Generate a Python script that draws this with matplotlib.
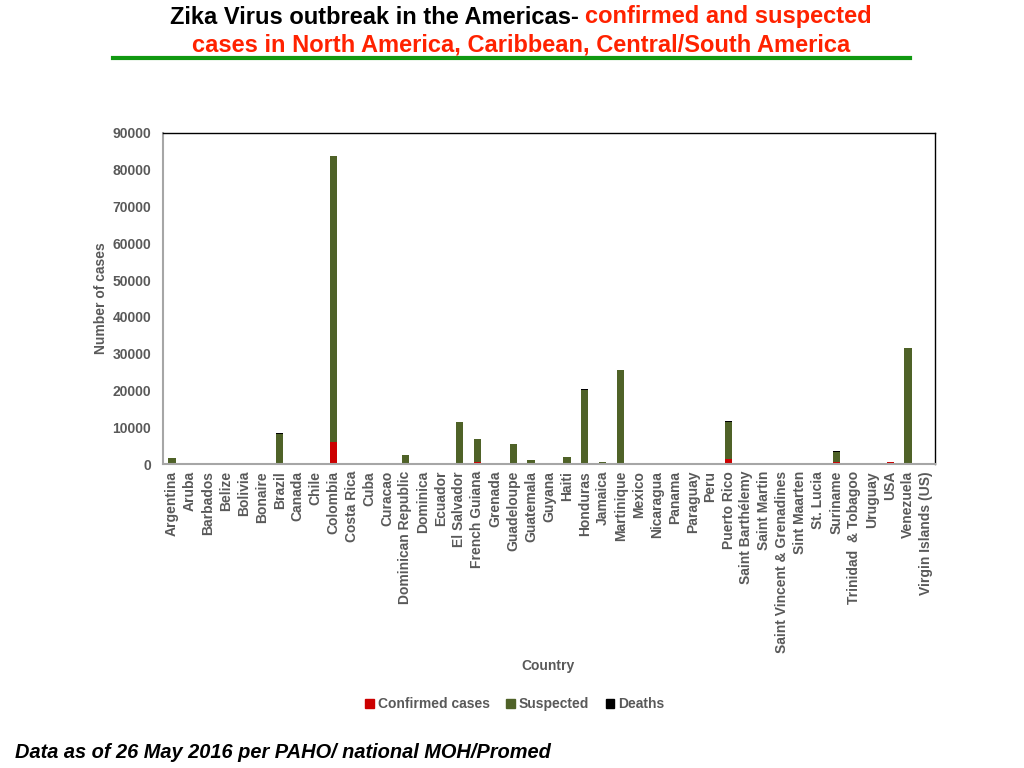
import matplotlib
matplotlib.use("Agg")
import matplotlib.pyplot as plt
import numpy as np
from matplotlib.lines import Line2D
from matplotlib.patches import Patch

countries = ["Argentina", "Aruba", "Barbados", "Belize", "Bolivia", "Bonaire", "Brazil",
             "Canada", "Chile", "Colombia", "Costa Rica", "Cuba", "Curacao",
             "Dominican Republic", "Dominica", "Ecuador", "El Salvador", "French Guiana",
             "Grenada", "Guadeloupe", "Guatemala", "Guyana", "Haiti", "Honduras", "Jamaica",
             "Martinique", "Mexico", "Nicaragua", "Panama", "Paraguay", "Peru", "Puerto Rico",
             "Saint Barthélemy", "Saint Martin", "Saint Vincent & Grenadines", "Sint Maarten",
             "St. Lucia", "Suriname", "Trinidad  & Tobagoo", "Uruguay", "USA", "Venezuela",
             "Virgin Islands (US)"]

confirmed = [40, 60, 60, 60, 60, 60, 60,
             60, 60, 6100, 60, 60, 60,
             60, 60, 60, 60, 450,
             60, 60, 60, 60, 60, 60, 60,
             60, 60, 60, 60, 60, 60, 1250,
             60, 60, 60, 60,
             60, 450, 60, 60, 600, 60,
             60]

suspected = [1500, 0, 0, 0, 0, 0, 8000,
             0, 0, 77700, 0, 0, 0,
             2400, 0, 0, 11400, 6400,
             0, 5500, 1050, 0, 1800, 20000, 500,
             25500, 0, 0, 0, 0, 0, 10100,
             0, 0, 0, 0,
             0, 2800, 0, 0, 0, 31400,
             0]

deaths = [0, 0, 0, 0, 0, 0, 250,
          0, 0, 0, 0, 0, 0,
          0, 0, 0, 0, 0,
          0, 0, 0, 0, 0, 250, 0,
          0, 0, 0, 0, 0, 0, 250,
          0, 0, 0, 0,
          0, 250, 0, 0, 0, 0,
          0]

RED = "#CC0000"
GREEN = "#4F6228"
BLACK = "#000000"
GRAY = "#595959"

plt.rcParams['font.family'] = ['Liberation Sans', 'DejaVu Sans']

fig = plt.figure(figsize=(10.24, 7.68), dpi=100)
ax = fig.add_axes([163/1024, 1 - 464/768, (935-163)/1024, (464-133)/768])

x = np.arange(len(countries))
conf = np.array(confirmed)
susp = np.array(suspected)
dth = np.array(deaths)
w = 0.4
ax.bar(x, conf, width=w, color=RED, linewidth=0)
ax.bar(x, susp, width=w, bottom=conf, color=GREEN, linewidth=0)
ax.bar(x, dth, width=w, bottom=conf + susp, color=BLACK, linewidth=0)

ax.set_xlim(-0.5, len(countries) - 0.5)
ax.set_ylim(0, 90000)
ax.set_yticks(np.arange(0, 90001, 10000))
ax.set_yticklabels([str(v) for v in range(0, 90001, 10000)], fontsize=10, fontweight='bold', color=GRAY)
ax.set_xticks(x)
ax.set_xticklabels(countries, rotation=90, fontsize=10, fontweight='bold', color=GRAY)
ax.tick_params(axis='x', length=0, pad=5)
ax.tick_params(axis='y', length=0, pad=8.5)

for side in ['top', 'right']:
    ax.spines[side].set_color('black')
    ax.spines[side].set_linewidth(1)
for side in ['left', 'bottom']:
    ax.spines[side].set_color('#A6A6A6')
    ax.spines[side].set_linewidth(1.5)

ax.set_ylabel("Number of cases", fontsize=10, fontweight='bold', color=GRAY, labelpad=3)
fig.text(548/1024, 1 - 666/768, "Country", ha='center', va='center', fontsize=10,
         fontweight='bold', color=GRAY)

handles = [Patch(color=RED, label="Confirmed cases"),
           Patch(color=GREEN, label="Suspected"),
           Patch(color=BLACK, label="Deaths")]
fig.legend(handles=handles, loc='center', bbox_to_anchor=(515/1024, 1 - 704/768), ncol=3,
           frameon=False, handlelength=0.6, handleheight=0.6, handletextpad=0.3,
           columnspacing=1.2, prop={'weight': 'bold', 'size': 10}, labelcolor=GRAY)

# Title
tf = ['Liberation Sans', 'DejaVu Sans']
t1a = fig.text(0, 0, "Zika Virus outbreak in the Americas- ", fontsize=17, fontweight='bold',
               family=tf, color='black')
t1b = fig.text(0, 0, "confirmed and suspected", fontsize=17, fontweight='bold',
               family=tf, color='#FF2200')
fig.canvas.draw()
r = fig.canvas.get_renderer()
wa = t1a.get_window_extent(r).width
wb = t1b.get_window_extent(r).width
cx = 521
start = cx - (wa + wb) / 2
y1 = 1 - 17/768
t1a.set_position((start/1024, y1)); t1a.set_va('center')
t1b.set_position(((start + wa)/1024, y1)); t1b.set_va('center')
fig.text(cx/1024, 1 - 45/768, "cases in North America, Caribbean, Central/South America",
         fontsize=17, fontweight='bold', family=tf, color='#FF2200', ha='center', va='center')

fig.add_artist(Line2D([113/1024, 910/1024], [1 - 58/768, 1 - 58/768], color='#119911',
                      linewidth=3, transform=fig.transFigure))

fig.text(15/1024, 1 - 752/768, "Data as of 26 May 2016 per PAHO/ national MOH/Promed",
         fontsize=14.4, fontweight='bold', style='italic', color='black', va='center', ha='left')

fig.savefig("out.png", dpi=100)
